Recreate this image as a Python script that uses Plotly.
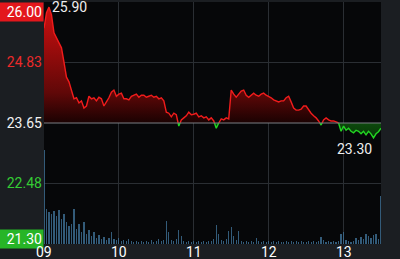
import numpy as np
import plotly.graph_objects as go

day_labels = ["09", "10", "11", "12", "13"]
samples_per_day = 30
prev_close = 23.65
y_min, y_max = 21.30, 26.00
y_labels = [26.00, 24.83, 23.65, 22.48, 21.30]
high_label = 25.90
low_label = 23.30

price = [
    25.49, 25.79, 25.90, 25.75, 25.40, 25.30, 25.22, 25.11, 24.83, 24.54,
    24.45, 24.29, 24.12, 24.14, 24.04, 24.08, 23.94, 23.98, 24.17, 24.12,
    24.14, 24.08, 24.15, 24.12, 23.98, 24.06, 24.14, 24.25, 24.29, 24.17,
    24.21, 24.23, 24.12, 24.12, 24.10, 24.17, 24.19, 24.21, 24.15, 24.19,
    24.19, 24.15, 24.17, 24.19, 24.15, 24.17, 24.12, 24.14, 24.08, 23.86,
    23.84, 23.77, 23.84, 23.81, 23.59, 23.71, 23.75, 23.79, 23.86, 23.81,
    23.82, 23.84, 23.77, 23.79, 23.75, 23.77, 23.71, 23.75, 23.69, 23.55,
    23.65, 23.73, 23.71, 23.75, 23.73, 24.29, 24.21, 24.15, 24.21, 24.27,
    24.29, 24.19, 24.15, 24.19, 24.23, 24.19, 24.17, 24.21, 24.23, 24.19,
    24.17, 24.14, 24.10, 24.08, 24.06, 24.08, 24.08, 24.14, 24.17, 24.06,
    23.94, 23.90, 23.90, 23.92, 23.98, 23.98, 23.90, 23.84, 23.79, 23.75,
    23.69, 23.61, 23.71, 23.75, 23.71, 23.69, 23.69, 23.67, 23.65, 23.49,
    23.59, 23.51, 23.55, 23.49, 23.46, 23.51, 23.49, 23.44, 23.49, 23.42,
    23.49, 23.44, 23.36, 23.44, 23.48, 23.55,
]

volume = [
    940, 350, 320, 300, 330, 280, 340, 250, 300, 220,
    180, 200, 350, 150, 200, 120, 220, 100, 140, 80,
    120, 60, 90, 50, 70, 40, 60, 120, 50, 40,
    60, 30, 40, 30, 50, 30, 20, 30, 20, 30,
    20, 30, 20, 40, 20, 30, 50, 30, 40, 230,
    120, 40, 30, 50, 140, 80, 30, 20, 30, 20,
    30, 20, 30, 20, 30, 20, 30, 30, 50, 190,
    100, 40, 30, 50, 130, 170, 80, 40, 130, 30,
    20, 30, 20, 30, 20, 60, 30, 20, 30, 20,
    30, 20, 30, 20, 30, 20, 20, 30, 20, 30,
    20, 30, 20, 30, 20, 20, 30, 20, 30, 20,
    30, 70, 40, 20, 30, 20, 30, 20, 30, 100,
    120, 40, 30, 20, 30, 60, 40, 70, 50, 100,
    80, 60, 90, 100, 50, 480,
]

t = np.arange(len(price)) / samples_per_day
p = np.array(price)

# insert crossing points with the previous close so colours split cleanly
xs, ys = [t[0]], [p[0]]
for i in range(1, len(p)):
    a, b = p[i - 1] - prev_close, p[i] - prev_close
    if a * b < 0:
        f = a / (a - b)
        xs.append(t[i - 1] + f * (t[i] - t[i - 1]))
        ys.append(prev_close)
    xs.append(t[i])
    ys.append(p[i])
xs = np.array(xs)
ys = np.array(ys)

up = np.maximum(ys, prev_close)
dn = np.minimum(ys, prev_close)
red_line = np.where(ys >= prev_close, ys, np.nan)
green_line = np.where(ys <= prev_close, ys, np.nan)
base = np.full_like(xs, prev_close)

RED = "#f01c1c"
GREEN = "#22d422"

fig = go.Figure()

fig.add_trace(go.Bar(x=t, y=volume, yaxis="y2", width=0.016,
                     marker=dict(color="rgba(62,112,150,0.8)", line=dict(width=0)),
                     hoverinfo="skip"))

fig.add_trace(go.Scatter(x=xs, y=base, mode="lines", line=dict(width=0), hoverinfo="skip"))
fig.add_trace(go.Scatter(x=xs, y=up, mode="lines", line=dict(width=0), fill="tonexty",
                         fillgradient=dict(type="vertical", start=prev_close, stop=y_max,
                                           colorscale=[[0, "#1a0202"], [0.25, "#600808"], [1, "#d81010"]]),
                         hoverinfo="skip"))
fig.add_trace(go.Scatter(x=xs, y=base, mode="lines", line=dict(width=0), hoverinfo="skip"))
fig.add_trace(go.Scatter(x=xs, y=dn, mode="lines", line=dict(width=0), fill="tonexty",
                         fillgradient=dict(type="vertical", start=23.30, stop=prev_close,
                                           colorscale=[[0, "#063006"], [1, "#0d4a0d"]]),
                         hoverinfo="skip"))

fig.add_trace(go.Scatter(x=xs, y=red_line, mode="lines", line=dict(color=RED, width=1.4),
                         connectgaps=False, hoverinfo="skip"))
fig.add_trace(go.Scatter(x=xs, y=green_line, mode="lines", line=dict(color=GREEN, width=1.4),
                         connectgaps=False, hoverinfo="skip"))

fig.add_shape(type="line", xref="paper", x0=0, x1=1, yref="y", y0=prev_close, y1=prev_close,
              line=dict(color="#7b7f84", width=1))

FONT = "Roboto"
label_styles = {
    26.00: dict(color="#ffffff", bg="#e3171c", anchor="top", shift=0),
    24.83: dict(color="#ec2a2a", bg=None, anchor="middle", shift=0),
    23.65: dict(color="#f2f2f2", bg=None, anchor="middle", shift=0),
    22.48: dict(color="#34cc34", bg=None, anchor="middle", shift=0),
    21.30: dict(color="#ffffff", bg="#27b527", anchor="middle", shift=5),
}
annotations = []
for v in y_labels:
    s = label_styles[v]
    ann = dict(x=0, xref="paper", xanchor="right", y=v, yref="y", yanchor=s["anchor"],
               yshift=s["shift"], text=f"{v:.2f}", showarrow=False, align="right",
               width=42, borderpad=1, font=dict(family=FONT, size=14, color=s["color"]))
    if s["bg"]:
        ann["bgcolor"] = s["bg"]
    annotations.append(ann)

for i, lab in enumerate(day_labels):
    annotations.append(dict(x=i, xref="x", y=0, yref="paper", yanchor="top", yshift=1,
                            xanchor="center", text=lab, showarrow=False, borderpad=0,
                            font=dict(family=FONT, size=14, color="#ffffff")))

hi_idx = int(np.argmax(p))
lo_idx = int(np.argmin(p))
annotations.append(dict(x=t[hi_idx], y=high_label, xref="x", yref="y", xanchor="left",
                        yanchor="middle", xshift=1, text=f"{high_label:.2f}", showarrow=False,
                        font=dict(family=FONT, size=14, color="#eeeeee")))
annotations.append(dict(x=t[lo_idx], y=p[lo_idx], xref="x", yref="y", xanchor="right",
                        yanchor="top", yshift=-1, text=f"{low_label:.2f}", showarrow=False,
                        font=dict(family=FONT, size=14, color="#eeeeee")))

fig.update_layout(
    width=400, height=259,
    margin=dict(l=44, r=19, t=2, b=15, pad=0),
    paper_bgcolor="#1b1e22",
    plot_bgcolor="#060709",
    showlegend=False,
    bargap=0,
    annotations=annotations,
    xaxis=dict(range=[0, 4.5], tickvals=[1, 2, 3, 4], showticklabels=False, showgrid=True,
               gridcolor="#2a2e33", gridwidth=1, zeroline=False, showline=False, fixedrange=True),
    yaxis=dict(range=[y_min, y_max], tickvals=[24.83, 22.48], showticklabels=False, showgrid=True,
               gridcolor="#2a2e33", gridwidth=1, zeroline=False, showline=False, fixedrange=True),
    yaxis2=dict(range=[0, 2420], overlaying="y", visible=False, fixedrange=True),
)

fig.write_html("out.html", config={"displayModeBar": False})
